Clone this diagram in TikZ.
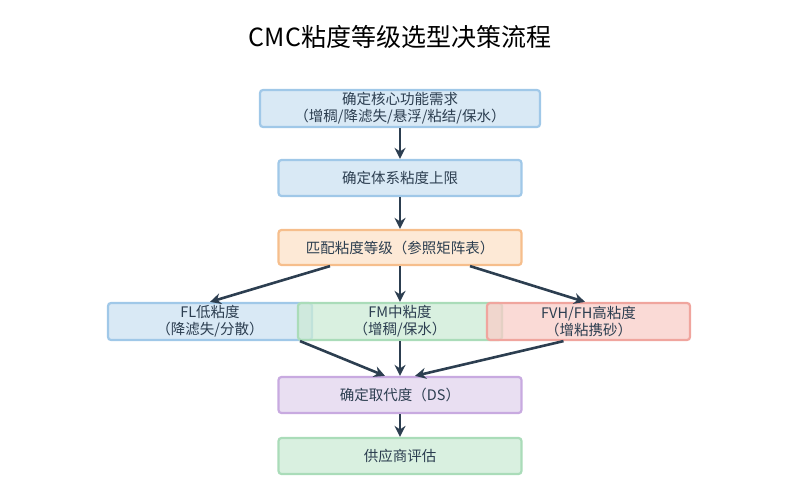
\documentclass[tikz,border=0pt]{standalone}
\usepackage{fontspec}
\newfontfamily\cjk{Noto Sans CJK SC}
\usetikzlibrary{arrows.meta}
\definecolor{ar}{HTML}{2C3E50}
\begin{document}
\begin{tikzpicture}[x=1pt,y=-1pt,
 box/.style={draw,line width=2.2pt,rounded corners=3pt,fill opacity=0.75,text opacity=1,inner sep=0pt,align=center,font=\cjk\fontsize{14.5}{17}\selectfont,text=ar},
 green/.style={box,fill={rgb,255:red,204;green,235;blue,214},draw={rgb,255:red,170;green,220;blue,185}},
 blue/.style={box,fill={rgb,255:red,204;green,225;blue,242},draw={rgb,255:red,160;green,200;blue,232}},
 orange/.style={box,fill={rgb,255:red,252;green,226;blue,200},draw={rgb,255:red,246;green,190;blue,140}},
 red/.style={box,fill={rgb,255:red,248;green,205;blue,200},draw={rgb,255:red,240;green,165;blue,158}},
 purple/.style={box,fill={rgb,255:red,226;green,212;blue,238},draw={rgb,255:red,200;green,170;blue,224}},
 arr/.style={draw=ar,line width=2.6pt,-{Stealth[length=11pt,width=11pt]}}]
\useasboundingbox (0,0) rectangle (800,500);
\node[font=\cjk\fontsize{25}{30}\selectfont,text=black] (t) at (400,37) {CMC粘度等级选型决策流程};
\node[blue,minimum width=280pt,minimum height=37pt] (a) at (400,108.5) {确定核心功能需求\\（增稠/降滤失/悬浮/粘结/保水）};
\node[blue,minimum width=243pt,minimum height=36pt] (b) at (400,178) {确定体系粘度上限};
\node[orange,minimum width=243pt,minimum height=35pt] (c) at (400,247.5) {匹配粘度等级（参照矩阵表）};
\node[blue,minimum width=204pt,minimum height=37pt] (fl) at (210,321.5) {FL低粘度\\（降滤失/分散）};
\node[green,minimum width=204pt,minimum height=37pt] (fm) at (400,321.5) {FM中粘度\\（增稠/保水）};
\node[red,minimum width=203pt,minimum height=37pt] (fh) at (588.5,321.5) {FVH/FH高粘度\\（增粘携砂）};
\node[purple,minimum width=243pt,minimum height=36pt] (d) at (400,395) {确定取代度（DS）};
\node[green,minimum width=243pt,minimum height=36pt] (e) at (400,456) {供应商评估};
\draw[arr] (a) -- (b);
\draw[arr] (b) -- (c);
\draw[arr] (c.south) ++(-70,0) coordinate (c1) -- (fl.north);
\draw[arr] (c) -- (fm);
\draw[arr] (c.south) ++(70,0) coordinate (c2) -- (fh.north -| 585,0);
\draw[arr] (fl.south) ++(90,0) coordinate (f1) -- (d.north -| 385,0);
\draw[arr] (fm) -- (d);
\draw[arr] (fh.south) ++(-25,0) coordinate (f2) -- (d.north -| 415,0);
\draw[arr] (d) -- (e);
\end{tikzpicture}
\end{document}
